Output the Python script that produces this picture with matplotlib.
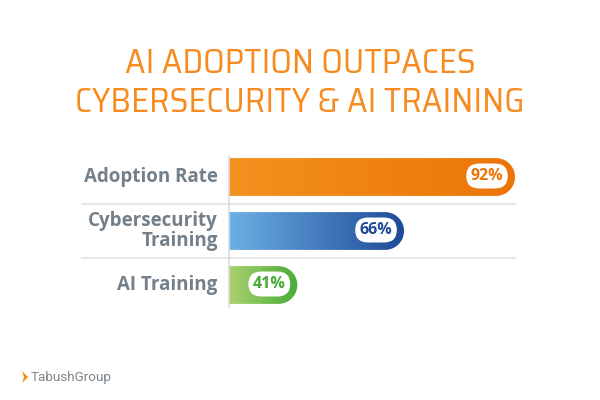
import numpy as np
import matplotlib
matplotlib.use("Agg")
import matplotlib.pyplot as plt
from matplotlib.path import Path
from matplotlib.patches import PathPatch, Polygon
from matplotlib.colors import LinearSegmentedColormap

# data
categories = ['Adoption Rate', 'Cybersecurity\nTraining', 'AI Training']
values = [92, 66, 41]
labels = ['92%', '66%', '41%']
grad_colors = [('#F3911F', '#EC7508'), ('#6CB0E4', '#1E4A98'), ('#ABD170', '#48AC36')]
text_colors = ['#EC7508', '#1E4A98', '#45A932']

title_lines = ['AI ADOPTION OUTPACES', 'CYBERSECURITY & AI TRAINING']

W, H = 600, 400
fig = plt.figure(figsize=(6, 4), dpi=100)
fig.patch.set_facecolor('white')

# axes in pixel terms: x 229..515, y 150..312 (top..bottom)
ax = fig.add_axes([229 / W, (H - 312) / H, (515 - 229) / W, 162 / H])
x0, x1 = 25, 92
ax.set_xlim(x0, x1)
ax.set_ylim(2.5, -0.5)
ax.axis('off')

px_per_x = (515 - 229) / (x1 - x0)
px_per_y = 162 / 3.0
bar_h = 0.70
ry = bar_h / 2
rx = ry * px_per_y / px_per_x

for i, (v, lab) in enumerate(zip(values, labels)):
    # bar outline: flat left, round right end
    th = np.linspace(-np.pi / 2, np.pi / 2, 40)
    xs = np.concatenate([[x0, v - rx], v - rx + rx * np.cos(th), [v - rx, x0]])
    ys = np.concatenate([[i + ry, i + ry], i + ry * np.sin(-th), [i - ry, i - ry]])
    verts = np.column_stack([xs, ys])
    verts = np.vstack([verts, verts[0]])
    codes = [Path.MOVETO] + [Path.LINETO] * (len(verts) - 2) + [Path.CLOSEPOLY]
    patch = PathPatch(Path(verts, codes), fc='none', ec='none')
    ax.add_patch(patch)
    cmap = LinearSegmentedColormap.from_list('g%d' % i, grad_colors[i])
    grad = np.linspace(0, 1, 256).reshape(1, -1)
    im = ax.imshow(grad, cmap=cmap, aspect='auto', extent=(x0, v, i + ry, i - ry),
                   interpolation='bicubic', zorder=2)
    im.set_clip_path(patch)
    ax.annotate(lab, xy=(v, i), xytext=(-28, 1), textcoords='offset pixels',
                ha='center', va='center', fontsize=11.5, fontweight='bold',
                family=['Open Sans', 'DejaVu Sans'], color=text_colors[i], zorder=4,
                bbox=dict(boxstyle='round,pad=0.28,rounding_size=0.8', fc='white', ec='none'))
    ax.text(-0.04, i, categories[i], transform=ax.get_yaxis_transform(),
            ha='right', va='center', fontsize=13.5, fontweight='bold',
            family=['Open Sans', 'DejaVu Sans'], color='#737F89', linespacing=0.95)

ax.set_xlim(x0, x1)
ax.set_ylim(2.5, -0.5)

# separators and axis line
for yy in [0.5, 1.5]:
    ax.axhline(yy, xmin=-(229 - 82) / (515 - 229), xmax=1.0, color='#E3E3E3', lw=1.2,
               clip_on=False, zorder=1)
ax.axvline(x0, ymin=0.03, ymax=0.965, color='#DCDCDC', lw=1.2, clip_on=False, zorder=3)

# title
for k, line in enumerate(title_lines):
    fig.text(0.5, 1 - (73 + 39 * k) / H, line, ha='center', va='baseline', fontsize=25,
             family=['Saira SemiCondensed', 'DejaVu Sans'], fontweight='normal',
             color='#F68B1F')

# logo
fig.patches.append(Polygon([(22 / W, 1 - 371 / H), (28 / W, 1 - 377 / H), (22 / W, 1 - 383 / H),
                            (24 / W, 1 - 377 / H)], closed=True, transform=fig.transFigure,
                           fc='#F58A1F', ec='none'))
fig.text(31 / W, 1 - 377 / H, 'TabushGroup', ha='left', va='center', fontsize=9.7,
         family=['Roboto', 'DejaVu Sans'], color='#7D858C')

fig.savefig('out.png', dpi=100, facecolor='white')
